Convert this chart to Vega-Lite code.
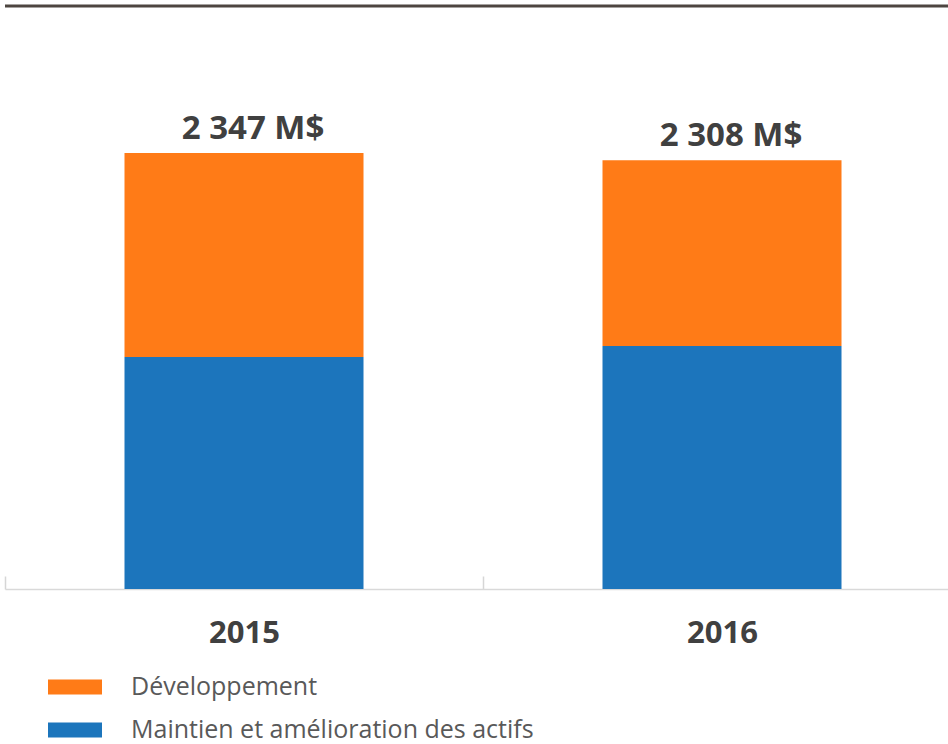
{
  "$schema": "https://vega.github.io/schema/vega-lite/v6.json",
  "width": 943,
  "height": 583,
  "autosize": {"type": "none"},
  "padding": {"left": 5, "top": 6, "right": 0, "bottom": 155},
  "background": "#ffffff",
  "config": {
    "view": {"stroke": null},
    "font": "Open Sans"
  },
  "datasets": {
    "segments": [
      {"annee": "2015", "categorie": "Développement", "ordre": 2, "montant": 1098},
      {"annee": "2015", "categorie": "Maintien et amélioration des actifs", "ordre": 1, "montant": 1249},
      {"annee": "2016", "categorie": "Développement", "ordre": 2, "montant": 1000},
      {"annee": "2016", "categorie": "Maintien et amélioration des actifs", "ordre": 1, "montant": 1308}
    ],
    "totaux": [
      {"annee": "2015", "total": 2347, "etiquette": "2 347 M$"},
      {"annee": "2016", "total": 2308, "etiquette": "2 308 M$"}
    ]
  },
  "layer": [
    {
      "data": {"name": "segments"},
      "mark": {"type": "bar"},
      "encoding": {
        "x": {
          "field": "annee",
          "type": "nominal",
          "scale": {"range": [0, 956], "paddingInner": 0.5, "paddingOuter": 0.25},
          "axis": {
            "title": null,
            "labelAngle": 0,
            "labelFont": "Open Sans",
            "labelFontWeight": "bold",
            "labelFontSize": 31,
            "labelColor": "#404040",
            "labelPadding": 42,
            "labelOffset": 239,
            "domainColor": "#d9d9d9",
            "domainWidth": 1.5,
            "tickColor": "#d6d6d6",
            "tickBand": "center",
            "tickOffset": -239,
            "tickSize": -13,
            "tickWidth": 1.5
          }
        },
        "y": {
          "field": "montant",
          "type": "quantitative",
          "stack": "zero",
          "scale": {"domain": [0, 3138], "nice": false},
          "axis": null
        },
        "color": {
          "field": "categorie",
          "type": "nominal",
          "scale": {
            "domain": ["Développement", "Maintien et amélioration des actifs"],
            "range": ["#FF7B17", "#1C75BC"]
          },
          "legend": {
            "title": null,
            "orient": "none",
            "legendX": 43,
            "legendY": 654,
            "direction": "vertical",
            "symbolType": "M-1,-0.28h2v0.56h-2z",
            "symbolSize": 2916,
            "symbolStrokeWidth": 0,
            "labelFont": "Open Sans",
            "labelFontSize": 25,
            "labelColor": "#595959",
            "labelOffset": 29,
            "rowPadding": 3,
            "labelLimit": 600
          }
        },
        "order": {"field": "ordre", "type": "quantitative"}
      }
    },
    {
      "data": {"name": "totaux"},
      "mark": {
        "type": "text",
        "font": "Open Sans",
        "fontWeight": "bold",
        "fontSize": 33,
        "color": "#404040",
        "baseline": "alphabetic",
        "dy": -14,
        "dx": 9
      },
      "encoding": {
        "x": {"field": "annee", "type": "nominal"},
        "y": {"field": "total", "type": "quantitative"},
        "text": {"field": "etiquette", "type": "nominal"}
      }
    },
    {
      "data": {"values": [{}]},
      "mark": {"type": "rule", "color": "#4d4540", "strokeWidth": 3},
      "encoding": {
        "y": {"datum": 3138, "type": "quantitative"}
      }
    }
  ]
}
